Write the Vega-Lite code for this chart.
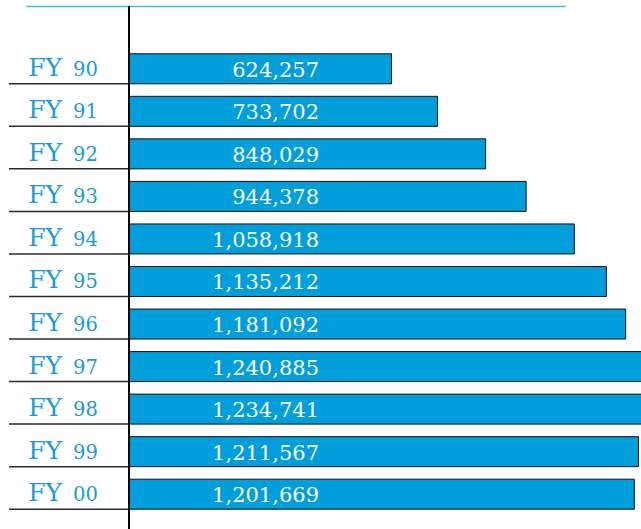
{
  "$schema": "https://vega.github.io/schema/vega-lite/v6.json",
  "width": 539,
  "height": 523,
  "autosize": {"type": "none"},
  "padding": {"left": 26, "right": 76, "top": 6, "bottom": 0},
  "config": {"view": {"stroke": null}, "font": "DejaVu Serif"},
  "data": {
    "values": [
      {"yr": "90", "v": 624257},
      {"yr": "91", "v": 733702},
      {"yr": "92", "v": 848029},
      {"yr": "93", "v": 944378},
      {"yr": "94", "v": 1058918},
      {"yr": "95", "v": 1135212},
      {"yr": "96", "v": 1181092},
      {"yr": "97", "v": 1240885},
      {"yr": "98", "v": 1234741},
      {"yr": "99", "v": 1211567},
      {"yr": "00", "v": 1201669}
    ]
  },
  "layer": [
    {
      "mark": {"type": "bar", "fill": "#009edb", "stroke": "#111111", "strokeWidth": 1},
      "encoding": {
        "y": {
          "field": "yr",
          "type": "nominal",
          "sort": null,
          "axis": null,
          "scale": {"paddingInner": 0.2948, "paddingOuter": 0.7945, "align": 0.707}
        },
        "x": {
          "field": "v",
          "type": "quantitative",
          "scale": {"domain": [-244934, 1036808], "nice": false},
          "axis": {
            "orient": "top",
            "domain": true,
            "domainColor": "#4ab8e8",
            "domainWidth": 1.5,
            "ticks": false,
            "labels": false,
            "grid": false,
            "title": null
          }
        },
        "x2": {"datum": 0}
      }
    },
    {
      "mark": {"type": "rule", "stroke": "#2a2a2a", "strokeWidth": 1.5},
      "encoding": {
        "y": {"field": "yr", "type": "nominal", "sort": null, "bandPosition": 1},
        "x": {"datum": -285360},
        "x2": {"datum": 0}
      }
    },
    {
      "mark": {"type": "rule", "stroke": "#000000", "strokeWidth": 1.5},
      "encoding": {"x": {"datum": 0}}
    },
    {
      "mark": {"type": "text", "align": "right", "baseline": "alphabetic", "dy": 7, "fontSize": 25, "fill": "#199cd8"},
      "encoding": {
        "y": {"field": "yr", "type": "nominal", "sort": null},
        "x": {"datum": -159326},
        "text": {"value": "FY"}
      }
    },
    {
      "mark": {"type": "text", "align": "left", "baseline": "alphabetic", "dy": 7, "fontSize": 19.5, "fill": "#199cd8"},
      "encoding": {
        "y": {"field": "yr", "type": "nominal", "sort": null},
        "x": {"datum": -133170},
        "text": {"field": "yr"}
      }
    },
    {
      "mark": {"type": "text", "align": "right", "baseline": "alphabetic", "dy": 8, "fontSize": 21, "fill": "#ffffff"},
      "encoding": {
        "y": {"field": "yr", "type": "nominal", "sort": null},
        "x": {"datum": 451820},
        "text": {"field": "v", "type": "quantitative", "format": ","}
      }
    }
  ]
}
